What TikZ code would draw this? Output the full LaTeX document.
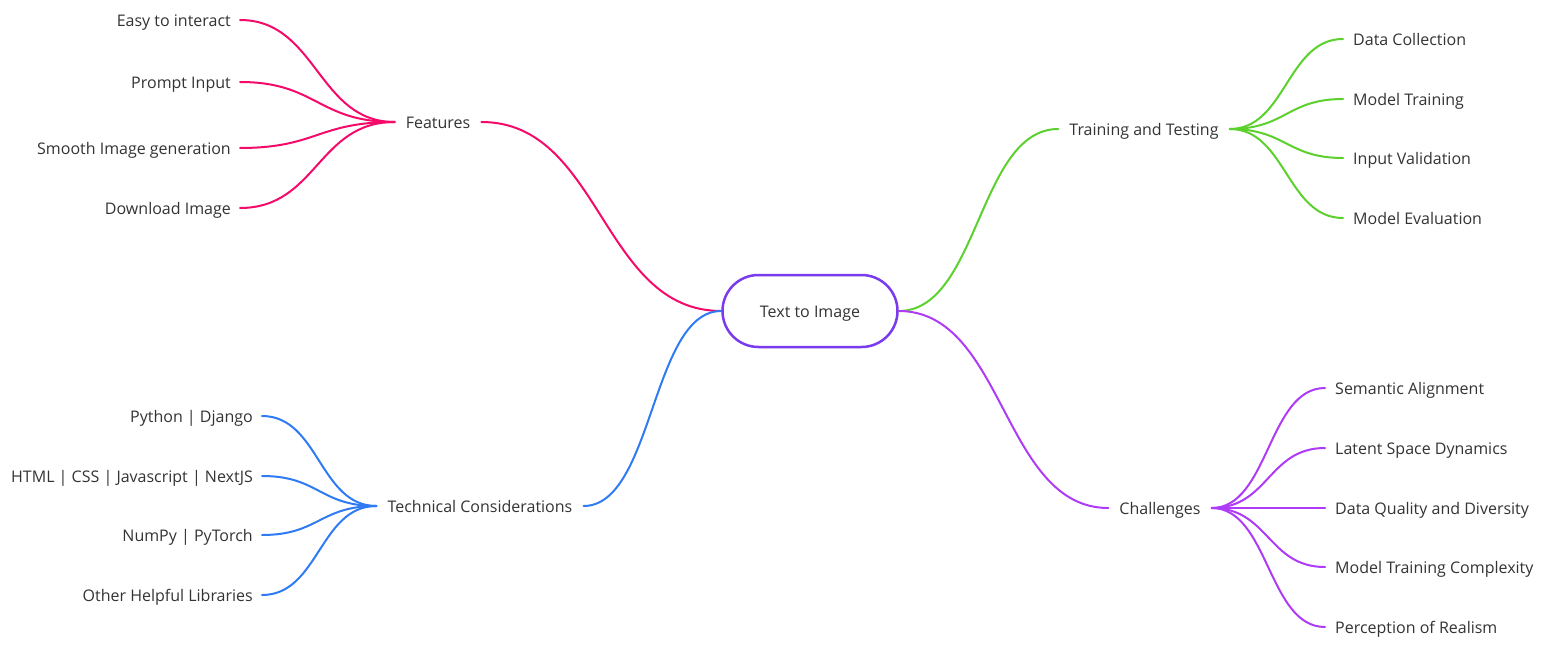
\documentclass[tikz,border=0pt]{standalone}
\usepackage{fontspec}
\setmainfont{Open Sans}
\definecolor{cpink}{HTML}{F50A6A}
\definecolor{cgreen}{HTML}{5CD12E}
\definecolor{cblue}{HTML}{2E7BF3}
\definecolor{cpurple}{HTML}{AE3BF5}
\definecolor{croot}{HTML}{7A3AEE}
\definecolor{ctext}{HTML}{333333}
\begin{document}
\begin{tikzpicture}[x=1pt,y=-1pt,
  every node/.style={font=\fontsize{16}{19}\selectfont, text=ctext, text height=17pt, text depth=4pt},
  topic/.style={inner xsep=11pt, inner ysep=0pt},
  leafl/.style={anchor=east, inner xsep=9pt, inner ysep=0pt},
  leafr/.style={anchor=west, inner xsep=10pt, inner ysep=0pt},
  conn/.style={line width=2pt, line cap=round}]
\useasboundingbox (0,0) rectangle (1544,647);

\node[draw=croot, line width=2.5pt, rounded corners=36pt, minimum width=175pt, minimum height=72pt, inner sep=0pt] (root) at (810,311) {Text to Image};

\node[topic] (feat) at (438,122) {Features};
\node[topic] (tt) at (1144,129) {Training and Testing};
\node[topic] (tc) at (480,506) {Technical Considerations};
\node[topic] (ch) at (1160,508) {Challenges};

\node[leafl] (f1) at (240,20) {Easy to interact};
\node[leafl] (f2) at (240,82) {Prompt Input};
\node[leafl] (f3) at (240,148) {Smooth Image generation};
\node[leafl] (f4) at (240,208) {Download Image};

\node[leafl] (c1) at (262,416) {Python | Django};
\node[leafl] (c2) at (262,476) {HTML | CSS | Javascript | NextJS};
\node[leafl] (c3) at (262,535) {NumPy | PyTorch};
\node[leafl] (c4) at (262,595) {Other Helpful Libraries};

\node[leafr] (t1) at (1343,39) {Data Collection};
\node[leafr] (t2) at (1343,99) {Model Training};
\node[leafr] (t3) at (1343,158) {Input Validation};
\node[leafr] (t4) at (1343,218) {Model Evaluation};

\node[leafr] (h1) at (1325,388) {Semantic Alignment};
\node[leafr] (h2) at (1325,448) {Latent Space Dynamics};
\node[leafr] (h3) at (1325,508) {Data Quality and Diversity};
\node[leafr] (h4) at (1325,567) {Model Training Complexity};
\node[leafr] (h5) at (1325,627) {Perception of Realism};

% root connectors
\draw[conn, cpink] (root.west) .. controls +(-120,0) and +(120,0) .. (feat.east);
\draw[conn, cblue] (root.west) .. controls +(-70,0) and +(70,0) .. (tc.east);
\draw[conn, cgreen] (root.east) .. controls +(80,0) and +(-80,0) .. (tt.west);
\draw[conn, cpurple] (root.east) .. controls +(106,0) and +(-106,0) .. (ch.west);

% features
\foreach \n in {f1,f2,f3,f4}
  \draw[conn, cpink] (feat.west) .. controls +(-77,0) and +(77,0) .. (\n.east);
% technical
\foreach \n in {c1,c2,c3,c4}
  \draw[conn, cblue] (tc.west) .. controls +(-57,0) and +(57,0) .. (\n.east);
% training
\foreach \n in {t1,t2,t3,t4}
  \draw[conn, cgreen] (tt.east) .. controls +(56,0) and +(-56,0) .. (\n.west);
% challenges
\foreach \n in {h1,h2,h3,h4,h5}
  \draw[conn, cpurple] (ch.east) .. controls +(57,0) and +(-57,0) .. (\n.west);
\end{tikzpicture}
\end{document}
